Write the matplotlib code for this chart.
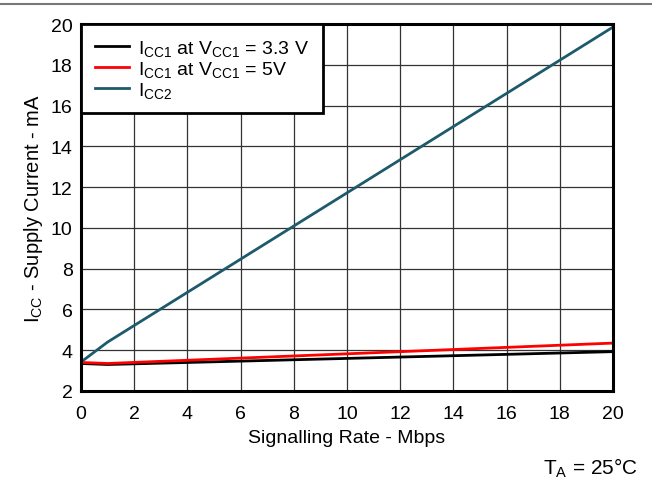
import matplotlib
matplotlib.use("Agg")
import matplotlib.pyplot as plt
from matplotlib.lines import Line2D

plt.rcParams.update(
    {
        "font.family": "Liberation Sans",
        "mathtext.fontset": "custom",
        "mathtext.rm": "Liberation Sans",
        "mathtext.it": "Liberation Sans",
        "font.size": 14,
    }
)

# ──── DATA ───────────────────────────────────────────────────────────────────

rate_icc1_33 = [0, 1, 20]
icc1_33 = [3.35, 3.3, 3.93]

rate_icc1_5 = [0, 1, 20]
icc1_5 = [3.4, 3.35, 4.35]

rate_icc2 = [0, 1, 20]
icc2 = [3.42, 4.4, 19.85]

xticks = list(range(0, 21, 2))
yticks = list(range(2, 21, 2))

# ──── PLOT ───────────────────────────────────────────────────────────────────

fig = plt.figure(figsize=(6.52, 4.81), dpi=100)
ax = fig.add_axes([81 / 652, 1 - 392 / 481, (613 - 81) / 652, (392 - 25) / 481])

ax.plot(rate_icc1_33, icc1_33, color="black", lw=2, label=r"I$_{\mathrm{CC1}}$ at V$_{\mathrm{CC1}}$ = 3.3 V")
ax.plot(rate_icc1_5, icc1_5, color="#ff0000", lw=2, label=r"I$_{\mathrm{CC1}}$ at V$_{\mathrm{CC1}}$ = 5V")
ax.plot(rate_icc2, icc2, color="#1d5a6c", lw=2, label=r"I$_{\mathrm{CC2}}$")

ax.set_xlim(0, 20)
ax.set_ylim(2, 20)
ax.set_xticks(xticks)
ax.set_yticks(yticks)
ax.tick_params(length=0, labelsize=14)
ax.tick_params(axis="x", pad=10)
ax.tick_params(axis="y", pad=6)
ax.grid(True, color="#333333", lw=0.9)
ax.set_axisbelow(True)
for s in ax.spines.values():
    s.set_linewidth(2.2)

ax.set_xlabel("Signalling Rate - Mbps", labelpad=5, fontsize=14)
ax.set_ylabel(r"I$_{\mathrm{CC}}$ - Supply Current - mA", labelpad=4, fontsize=14.5)

leg = ax.legend(
    loc="upper left",
    bbox_to_anchor=(0, 1),
    borderaxespad=0,
    fancybox=False,
    edgecolor="black",
    framealpha=1,
    handlelength=1.75,
    handletextpad=0.5,
    labelspacing=0.05,
    fontsize=14,
    borderpad=0.7,
)
leg.get_frame().set_linewidth(2)

fig.text(590 / 652, 1 - 468 / 481, r"T$_{\mathrm{A}}$ = 25°C", ha="center", va="center", fontsize=15)
fig.add_artist(Line2D([0, 1], [1 - 5 / 481, 1 - 5 / 481], color="#777777", lw=1.5))

fig.savefig("out.png", dpi=100)
